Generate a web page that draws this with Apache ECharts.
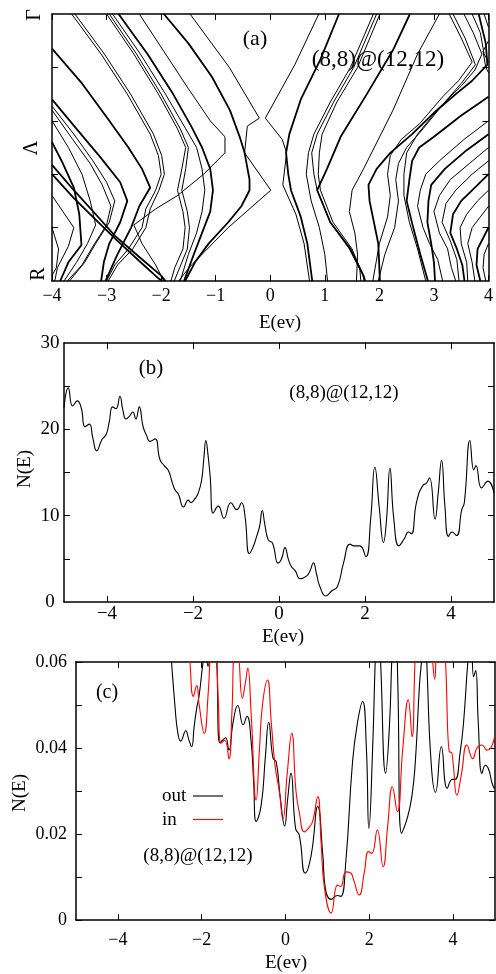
<!DOCTYPE html>
<html><head><meta charset="utf-8">
<script src="https://cdn.jsdelivr.net/npm/echarts@6/dist/echarts.min.js"></script>
<style>html,body{margin:0;padding:0;background:#fff}#c{width:496px;height:974px}</style>
</head><body><div id="c"></div>
<script>
// ---------- Panel (a): band lines, each a list of [E, k] (k: 0 = Γ at top, 1 = R at bottom)
const bandPaths = [
 [[-4.0,0.13],[-3.45,0.26],[-2.95,0.4],[-2.6,0.5],[-2.35,0.58],[-2.2,0.65],[-2.4,0.72],[-2.55,0.8],[-2.8,0.9],[-3.02,1.0]],
 [[-4.0,0.32],[-3.55,0.43],[-3.1,0.54],[-2.75,0.63],[-2.62,0.7],[-2.75,0.78],[-2.95,0.86],[-3.05,0.93],[-3.1,1.0]],
 [[-4.0,0.345],[-3.6,0.45],[-3.25,0.55],[-3.0,0.63],[-2.85,0.7],[-2.95,0.78],[-3.2,0.86],[-3.4,0.93],[-3.68,1.0]],
 [[-4.0,0.36],[-3.62,0.47],[-3.3,0.56],[-3.08,0.64],[-2.92,0.72],[-3.0,0.79],[-3.25,0.87],[-3.45,0.94],[-3.72,1.0]],
 [[-4.0,0.40],[-3.7,0.5],[-3.45,0.6],[-3.3,0.7],[-3.2,0.79],[-3.35,0.86],[-3.55,0.93],[-3.78,1.0]],
 [[-4.0,0.48],[-3.8,0.56],[-3.6,0.65],[-3.5,0.75],[-3.46,0.865],[-3.7,0.93],[-3.85,1.0]],
 [[-4.0,0.565],[-3.6,0.66],[-3.2,0.75],[-2.85,0.83],[-2.4,0.91],[-2.0,0.98],[-1.92,1.0]],
 [[-4.0,0.60],[-3.6,0.69],[-3.2,0.77],[-2.8,0.85],[-2.4,0.925],[-2.05,0.99],[-1.98,1.0]],
 [[-4.0,0.68],[-3.8,0.74],[-3.6,0.8],[-3.7,0.87],[-3.9,0.95],[-3.95,1.0]],
 [[-4.0,0.80],[-3.88,0.88],[-3.92,0.95],[-4.0,0.98]],
 [[-3.64,0],[-3.1,0.15],[-2.62,0.3],[-2.2,0.45],[-2.05,0.53],[-2.0,0.6],[-2.1,0.66],[-2.28,0.73],[-2.35,0.8],[-2.6,0.88],[-2.85,0.94],[-3.0,1.0]],
 [[-3.58,0],[-3.04,0.15],[-2.56,0.3],[-2.14,0.45],[-1.99,0.53],[-1.94,0.6],[-2.04,0.66],[-2.2,0.73],[-2.28,0.8],[-2.52,0.88],[-2.8,0.94],[-2.97,1.0]],
 [[-3.0,0],[-2.5,0.15],[-2.05,0.3],[-1.7,0.43],[-1.55,0.5],[-1.62,0.58],[-1.7,0.66],[-1.6,0.74],[-1.56,0.8],[-1.6,0.88],[-1.75,0.95],[-1.82,1.0]],
 [[-2.95,0],[-2.45,0.15],[-2.0,0.3],[-1.65,0.43],[-1.5,0.5],[-1.55,0.58],[-1.62,0.66],[-1.52,0.74],[-1.48,0.8],[-1.52,0.88],[-1.66,0.95],[-1.76,1.0]],
 [[-2.89,0],[-2.38,0.15],[-1.92,0.3],[-1.55,0.43],[-1.35,0.5],[-1.25,0.58],[-1.2,0.66],[-1.25,0.74],[-1.35,0.82],[-1.5,0.9],[-1.65,1.0]],
 [[-2.78,0],[-2.25,0.15],[-1.78,0.3],[-1.45,0.42],[-1.25,0.5],[-1.1,0.58],[-1.05,0.66],[-1.1,0.74],[-1.25,0.82],[-1.4,0.9],[-1.58,1.0]],
 [[-2.40,0],[-1.95,0.14],[-1.5,0.28],[-1.1,0.4],[-0.83,0.46],[-0.83,0.52],[-1.22,0.6],[-1.7,0.68],[-2.1,0.73],[-2.5,0.79],[-2.35,0.86],[-2.1,0.94],[-1.95,1.0]],
 [[-1.95,0],[-1.5,0.11],[-1.07,0.235],[-0.74,0.36],[-0.56,0.46],[-0.47,0.52],[-0.38,0.62],[-0.38,0.66],[-0.53,0.72],[-0.77,0.78],[-1.13,0.86],[-1.38,0.93],[-1.56,1.0]],
 [[-1.47,0],[-0.75,0.2],[-0.2,0.39],[-0.42,0.42],[-0.47,0.52],[0.01,0.66],[-0.77,0.8],[-1.47,0.946],[-1.68,1.0]],
 [[0.89,0],[0.45,0.19],[-0.09,0.39],[0.22,0.47],[0.30,0.52],[0.23,0.64],[0.47,0.75],[0.62,0.86],[0.72,1.0]],
 [[1.26,0],[0.92,0.17],[0.56,0.32],[0.35,0.45],[0.29,0.52],[0.33,0.6],[0.38,0.66],[0.56,0.76],[0.68,0.86],[0.77,1.0]],
 [[1.89,0],[1.47,0.2],[1.1,0.33],[0.8,0.45],[0.7,0.52],[0.66,0.6],[0.75,0.7],[0.9,0.8],[1.0,0.9],[1.05,1.0]],
 [[1.95,0],[1.53,0.2],[1.16,0.33],[0.86,0.45],[0.76,0.52],[0.8,0.6],[0.86,0.66],[1.1,0.78],[1.45,0.88],[1.7,0.98],[1.72,1.0]],
 [[2.01,0],[1.6,0.2],[1.22,0.33],[0.95,0.45],[0.9,0.52],[0.88,0.6],[0.92,0.66],[1.15,0.78],[1.5,0.88],[1.64,0.95],[1.66,1.0]],
 [[2.56,0],[2.25,0.135],[1.77,0.3],[1.29,0.46],[1.04,0.58],[0.86,0.66],[1.1,0.78],[1.47,0.88],[1.71,0.98],[1.74,1.0]],
 [[3.1,0],[2.7,0.15],[2.25,0.36],[1.71,0.58],[1.5,0.66],[1.45,0.74],[1.55,0.82],[1.6,0.9],[1.58,1.0]],
 [[3.28,0],[3.5,0.09],[3.7,0.18],[3.45,0.25],[3.16,0.31],[2.74,0.41],[2.4,0.47],[2.2,0.53],[2.15,0.6],[2.2,0.68],[2.15,0.76],[2.0,0.86],[1.88,1.0]],
 [[3.35,0],[3.57,0.09],[3.76,0.19],[3.5,0.26],[3.2,0.33],[2.8,0.43],[2.5,0.5],[2.35,0.56],[2.3,0.62],[2.35,0.7],[2.28,0.8],[2.1,0.9],[1.98,1.0]],
 [[3.82,0],[3.95,0.11],[3.98,0.19],[3.7,0.25],[3.4,0.3],[3.0,0.37],[2.6,0.45],[2.2,0.52],[1.95,0.58],[1.8,0.64],[1.82,0.7],[1.9,0.78],[1.98,0.86],[2.01,1.0]],
 [[3.55,0],[3.72,0.07],[3.88,0.15],[3.75,0.21],[3.5,0.27],[3.1,0.35],[2.7,0.45],[2.5,0.52],[2.45,0.6],[2.45,0.68],[2.55,0.78],[2.7,0.88],[2.85,1.0]],
 [[4.0,0.31],[3.5,0.38],[3.0,0.46],[2.73,0.5],[2.6,0.55],[2.55,0.62],[2.5,0.7],[2.62,0.8],[2.75,0.9],[2.89,1.0]],
 [[4.0,0.40],[3.55,0.47],[3.1,0.55],[2.85,0.6],[2.75,0.66],[2.7,0.72],[2.8,0.8],[2.92,0.86],[3.07,0.92],[3.16,1.0]],
 [[4.0,0.45],[3.6,0.51],[3.2,0.58],[2.95,0.64],[2.9,0.7],[2.88,0.78],[2.95,0.86],[3.0,0.93],[3.02,1.0]],
 [[4.0,0.5],[3.65,0.56],[3.3,0.62],[3.1,0.68],[3.0,0.74],[3.1,0.82],[3.25,0.88],[3.32,0.95],[3.4,1.0]],
 [[4.0,0.55],[3.7,0.6],[3.4,0.66],[3.22,0.71],[3.15,0.78],[3.3,0.85],[3.42,0.92],[3.46,1.0]],
 [[4.0,0.6],[3.75,0.65],[3.5,0.7],[3.35,0.75],[3.3,0.82],[3.42,0.88],[3.52,0.94],[3.56,1.0]],
 [[4.0,0.66],[3.8,0.7],[3.6,0.75],[3.48,0.8],[3.5,0.86],[3.6,0.93],[3.62,1.0]],
 [[4.0,0.72],[3.85,0.76],[3.7,0.8],[3.62,0.86],[3.7,0.93],[3.75,1.0]],
 [[4.0,0.8],[3.9,0.84],[3.8,0.88],[3.78,0.94],[3.85,1.0]],
 [[4.0,0.86],[3.92,0.9],[3.9,0.95],[3.95,1.0]],
 [[3.7,0],[3.85,0.07],[3.92,0.15],[4.0,0.18]],
 [[3.92,0],[4.0,0.05]],
 [[4.0,0.1],[3.9,0.14],[3.95,0.2],[4.0,0.22]]
];
const thickBands = [0,1,5,6,7,15,17,20,24,28,30,32,35,38];
const kTickValues = [0.2,0.4,0.6,0.8];
const kLabels = ['Γ','Λ','R'];
const bandETicks = [-4,-3,-2,-1,0,1,2,3,4];

// ---------- Panel (b): total DOS
const dosE = [-5.00,-4.90,-4.80,-4.69,-4.60,-4.51,-4.41,-4.33,-4.24,-4.12,-4.02,-3.95,-3.87,-3.79,-3.70,-3.63,-3.56,-3.48,-3.40,-3.33,-3.25,-3.16,-3.08,-3.00,-2.88,-2.77,-2.67,-2.57,-2.48,-2.42,-2.34,-2.22,-2.11,-2.05,-1.95,-1.88,-1.80,-1.75,-1.70,-1.65,-1.60,-1.53,-1.41,-1.28,-1.12,-0.98,-0.87,-0.79,-0.69,-0.60,-0.52,-0.45,-0.39,-0.33,-0.25,-0.15,-0.02,0.06,0.14,0.22,0.29,0.38,0.49,0.64,0.72,0.80,0.87,0.95,1.09,1.23,1.36,1.50,1.65,1.75,1.88,2.02,2.13,2.23,2.33,2.43,2.50,2.58,2.67,2.79,2.91,3.01,3.08,3.20,3.36,3.42,3.50,3.63,3.70,3.78,3.86,3.94,4.02,4.13,4.25,4.31,4.44,4.53,4.58,4.71,4.86,5.00];
const dosN = [22.5,24.8,22.7,23.3,22.5,20.3,20.6,19.0,17.5,18.8,19.4,20.8,22.6,22.4,23.8,22.2,21.2,21.5,22.0,21.2,22.6,20.3,19.3,18.6,18.9,16.5,15.8,15.2,13.8,13.0,12.5,11.0,11.8,11.5,12.0,12.6,14.1,16.5,18.7,17.0,14.5,10.3,11.1,9.7,11.5,10.7,11.5,9.9,5.6,6.4,7.6,8.8,10.6,9.0,7.2,6.8,4.5,5.0,6.3,4.9,4.1,3.6,2.7,3.0,3.6,4.55,3.3,1.8,0.7,1.3,1.8,4.5,6.7,6.5,6.5,5.25,9.5,15.6,11.0,6.9,9.5,15.5,9.6,6.5,7.3,8.1,7.9,11.6,13.6,13.7,14.4,9.6,12.5,16.4,11.0,7.6,8.1,7.7,10.7,11.5,18.7,15.3,15.8,13.2,14.0,12.6];
const dosYLabels = [0,10,20,30];
const eTicks = [-4,-2,0,2,4];

// ---------- Panel (c): local DOS, outer ("out") and inner ("in") tube
const outE = [-3.00,-2.80,-2.72,-2.64,-2.57,-2.50,-2.38,-2.31,-2.24,-2.18,-2.12,-2.06,-1.98,-1.92,-1.85,-1.78,-1.70,-1.64,-1.57,-1.50,-1.43,-1.35,-1.25,-1.14,-1.01,-0.92,-0.82,-0.76,-0.70,-0.58,-0.48,-0.40,-0.30,-0.22,-0.13,-0.02,0.05,0.13,0.24,0.33,0.47,0.61,0.77,0.89,0.95,1.09,1.24,1.32,1.44,1.60,1.72,1.84,1.93,1.99,2.08,2.14,2.20,2.27,2.39,2.48,2.56,2.63,2.68,2.77,2.91,3.02,3.10,3.20,3.26,3.32,3.38,3.48,3.58,3.72,3.86,3.98,4.05,4.17,4.25,4.37,4.43,4.49,4.54,4.60,4.69,4.77,4.85,4.93,4.99];
const outN = [0.095,0.070,0.060,0.050,0.0435,0.0416,0.044,0.042,0.0403,0.045,0.0492,0.0523,0.059,0.063,0.059,0.066,0.070,0.060,0.0412,0.0418,0.0424,0.0395,0.046,0.0499,0.0454,0.0474,0.0415,0.032,0.0229,0.0267,0.038,0.046,0.0377,0.0367,0.029,0.0219,0.028,0.0341,0.0213,0.0197,0.0109,0.0149,0.0264,0.0152,0.0074,0.0048,0.0057,0.0055,0.0136,0.0368,0.046,0.0508,0.040,0.0213,0.040,0.060,0.075,0.060,0.0341,0.045,0.065,0.070,0.055,0.0202,0.0238,0.029,0.037,0.055,0.062,0.075,0.058,0.036,0.0297,0.0403,0.0306,0.0327,0.0327,0.0391,0.046,0.062,0.065,0.0566,0.058,0.046,0.0341,0.036,0.035,0.0318,0.0305];
const inE = [-2.60,-2.40,-2.28,-2.20,-2.12,-2.06,-1.94,-1.85,-1.78,-1.73,-1.66,-1.60,-1.54,-1.45,-1.35,-1.28,-1.21,-1.15,-1.03,-0.96,-0.90,-0.82,-0.70,-0.62,-0.55,-0.43,-0.34,-0.25,-0.15,-0.06,0.04,0.15,0.25,0.33,0.45,0.57,0.65,0.77,0.85,0.93,1.09,1.24,1.32,1.44,1.55,1.62,1.76,1.88,1.98,2.06,2.19,2.33,2.44,2.55,2.67,2.80,2.93,3.02,3.10,3.20,3.40,3.50,3.56,3.62,3.75,3.82,3.91,3.96,4.00,4.09,4.20,4.33,4.47,4.57,4.69,4.81,4.90,4.99];
const inN = [0.090,0.075,0.060,0.052,0.0545,0.050,0.0434,0.052,0.065,0.070,0.065,0.050,0.0411,0.0418,0.0375,0.048,0.062,0.062,0.0516,0.055,0.0586,0.048,0.0279,0.040,0.050,0.0558,0.046,0.036,0.030,0.0236,0.034,0.0434,0.030,0.025,0.0205,0.0216,0.023,0.0287,0.018,0.0074,0.0016,0.0081,0.0078,0.0112,0.011,0.0095,0.0058,0.011,0.0159,0.0155,0.0209,0.0124,0.022,0.031,0.0252,0.040,0.0512,0.0426,0.062,0.075,0.075,0.062,0.056,0.064,0.070,0.060,0.0391,0.039,0.0365,0.029,0.034,0.0407,0.0375,0.040,0.0407,0.0395,0.040,0.0426];
const ldosYLabels = [0,0.02,0.04,0.06];
const ldosYTicks = [0,0.01,0.02,0.03,0.04,0.05,0.06];

// ---------- build
const FONT = '"Liberation Serif", "DejaVu Serif", serif';
const minus = v => String(v).replace('-', '\u2212');
const zip = (a, b) => a.map((v, i) => [v, b[i]]);
const lineAx = {show: true, onZero: false, lineStyle: {color: '#000', width: 1.5}};
function xAx(grid, pos, min, max, ticks, labels, size, margin) {
  return {type: 'value', gridIndex: grid, position: pos, min: min, max: max, interval: 1,
    axisLine: lineAx, splitLine: {show: false},
    axisTick: {show: true, inside: true, length: 6, customValues: ticks, lineStyle: {color: '#000', width: 1}},
    axisLabel: labels ? {show: true, customValues: labels, fontFamily: FONT, fontSize: size, color: '#000', margin: margin, formatter: minus} : {show: false}};
}
function yAx(grid, pos, min, max, ticks, extra) {
  const a = {type: 'value', gridIndex: grid, position: pos, min: min, max: max,
    axisLine: lineAx, splitLine: {show: false},
    axisTick: {show: true, inside: true, length: 6, customValues: ticks, lineStyle: {color: '#000', width: 1}},
    axisLabel: {show: false}};
  return Object.assign(a, extra || {});
}
const series = [];
bandPaths.forEach((p, i) => {
  series.push({type: 'line', xAxisIndex: 0, yAxisIndex: 0, data: p, showSymbol: false, silent: true,
    lineStyle: {color: '#000', width: thickBands.includes(i) ? 1.8 : 1.0}});
});
series.push({type: 'line', xAxisIndex: 2, yAxisIndex: 2, data: zip(dosE, dosN), showSymbol: false, smooth: 0.5,
  lineStyle: {color: '#000', width: 1.1}});
series.push({type: 'line', name: 'out', xAxisIndex: 4, yAxisIndex: 4, data: zip(outE, outN), showSymbol: false, smooth: 0.5,
  lineStyle: {color: '#000', width: 1.1}});
series.push({type: 'line', name: 'in', xAxisIndex: 4, yAxisIndex: 4, data: zip(inE, inN), showSymbol: false, smooth: 0.5,
  lineStyle: {color: '#ff0000', width: 1.1}});

function txt(x, y, s, size, rot, align) {
  return {type: 'text', x: x, y: y, rotation: rot || 0, silent: true,
    style: {text: s, font: size + 'px ' + FONT, fill: '#000', textAlign: align || 'center', textVerticalAlign: 'middle'}};
}
const R90 = Math.PI / 2;
const graphics = [
  txt(35, 15, kLabels[0], 20, R90), txt(32, 148, kLabels[1], 20, R90), txt(39, 274, kLabels[2], 20, R90),
  txt(280, 323, 'E(ev)', 19),
  txt(255, 39, '(a)', 22), txt(378, 60, '(8,8)@(12,12)', 23),
  txt(151, 368, '(b)', 21), txt(344, 393, '(8,8)@(12,12)', 19),
  txt(25, 469, 'N(E)', 19, R90), txt(283, 637, 'E(ev)', 19),
  txt(107, 693, '(c)', 20), txt(198, 856, '(8,8)@(12,12)', 19),
  txt(20, 793, 'N(E)', 19, R90), txt(286, 963, 'E(ev)', 19),
  txt(162, 796, 'out', 19, 0, 'left'), txt(162, 820, 'in', 19, 0, 'left'),
  {type: 'line', silent: true, shape: {x1: 193, y1: 796, x2: 223, y2: 796}, style: {stroke: '#000', lineWidth: 1.1}},
  {type: 'line', silent: true, shape: {x1: 193, y1: 819.5, x2: 223, y2: 819.5}, style: {stroke: '#ff0000', lineWidth: 1.1}}
];

const option = {
  animation: false,
  backgroundColor: '#fff',
  grid: [
    {left: 52, top: 14, width: 441, height: 267},
    {left: 64, top: 343, width: 430, height: 259},
    {left: 76, top: 662, width: 419, height: 258}
  ],
  xAxis: [
    xAx(0, 'bottom', -4, 4, bandETicks, bandETicks, 18, 6),
    xAx(0, 'top', -4, 4, bandETicks, null),
    xAx(1, 'bottom', -5, 5, eTicks, eTicks, 19, 3),
    xAx(1, 'top', -5, 5, eTicks, null),
    xAx(2, 'bottom', -5, 5, eTicks, eTicks, 18, 11),
    xAx(2, 'top', -5, 5, eTicks, null)
  ],
  yAxis: [
    yAx(0, 'left', 0, 1, kTickValues, {inverse: true}),
    yAx(0, 'right', 0, 1, kTickValues, {inverse: true}),
    yAx(1, 'left', 0, 30, [5,10,15,20,25], {axisLabel: {show: true, customValues: dosYLabels, fontFamily: FONT, fontSize: 19, color: '#000', align: 'center', margin: 14}}),
    yAx(1, 'right', 0, 30, [5,10,15,20,25]),
    yAx(2, 'left', 0, 0.06, ldosYTicks, {axisLabel: {show: true, customValues: ldosYLabels, fontFamily: FONT, fontSize: 18, color: '#000', margin: 9,
      formatter: v => v === 0 ? '0' : v.toFixed(2)}}),
    yAx(2, 'right', 0, 0.06, ldosYTicks)
  ],
  series: series,
  graphic: graphics
};
const chart = echarts.init(document.getElementById('c'), null, {renderer: 'canvas'});
chart.setOption(option);
</script>
</body></html>
